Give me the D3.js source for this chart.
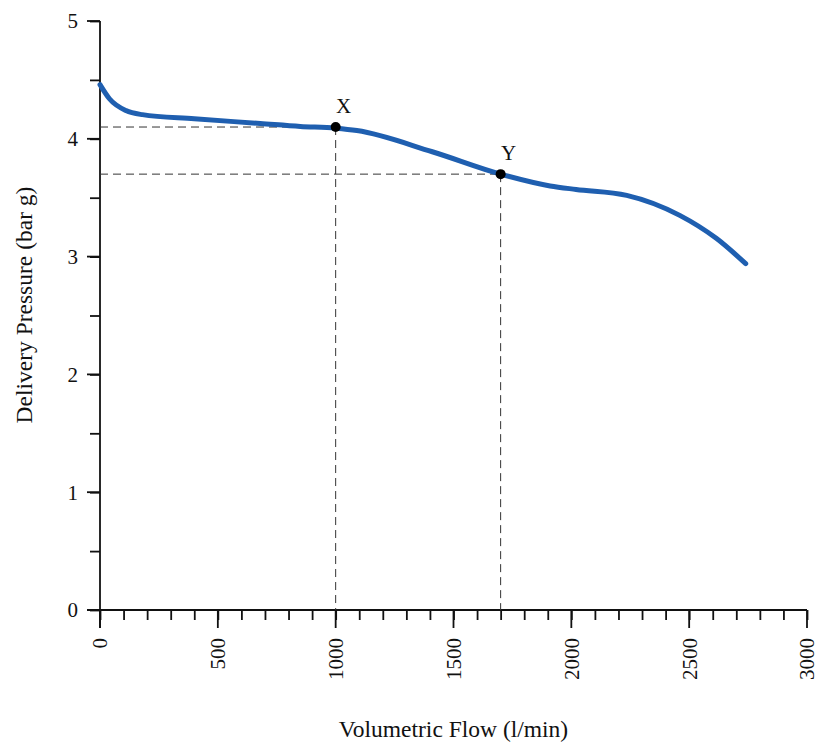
<!DOCTYPE html>
<html>
<head>
<meta charset="utf-8">
<script src="https://cdn.jsdelivr.net/npm/d3@7"></script>
<style>
  body { margin: 0; background: #fff; }
  svg text { font-family: "Liberation Serif", "Times New Roman", serif; fill: #111; }
</style>
</head>
<body>
<div id="chart"></div>
<script>
// pump curve
const flow = [0, 40, 110, 180, 400, 680, 850, 1000, 1090, 1410, 1700, 1910, 2020, 2235, 2460, 2615, 2740];
const pressure = [4.46, 4.34, 4.24, 4.205, 4.17, 4.13, 4.105, 4.09, 4.07, 3.89, 3.70, 3.60, 3.57, 3.52, 3.35, 3.155, 2.94];

const markNames = ['X', 'Y'];
const markFlow = [1000, 1700];
const markPressure = [4.1, 3.7];

const xTicks = [0, 500, 1000, 1500, 2000, 2500, 3000];
const yTicks = [0, 1, 2, 3, 4, 5];

const width = 820, height = 742;
const margin = {top: 21, right: 13, bottom: 132, left: 100};

const svg = d3.select('#chart').append('svg')
    .attr('width', width)
    .attr('height', height);

const x = d3.scaleLinear().domain([0, 3000]).range([margin.left, width - margin.right]);
const y = d3.scaleLinear().domain([0, 5]).range([height - margin.bottom, margin.top]);

// y axis
const yAxis = svg.append('g')
    .attr('transform', `translate(${margin.left},0)`);
yAxis.call(d3.axisLeft(y).tickValues(d3.range(0, 5.01, 0.5)).tickSize(10).tickFormat(''))
    .call(g => g.select('.domain').remove())
    .call(g => g.selectAll('line').attr('stroke', '#111').attr('stroke-width', 1.8));
yAxis.selectAll('.major')
  .data(yTicks)
  .enter().append('line')
    .attr('x1', -13).attr('x2', 0)
    .attr('y1', d => y(d)).attr('y2', d => y(d))
    .attr('stroke', '#111').attr('stroke-width', 1.8);
yAxis.selectAll('.lbl')
  .data(yTicks)
  .enter().append('text')
    .attr('x', -22)
    .attr('y', d => y(d))
    .attr('dy', '0.35em')
    .attr('text-anchor', 'end')
    .attr('font-size', 21)
    .text(d => d);
yAxis.append('line')
    .attr('y1', y(5)).attr('y2', y(0) + 18)
    .attr('stroke', '#111').attr('stroke-width', 1.8);

// x axis
const xAxis = svg.append('g')
    .attr('transform', `translate(0,${y(0)})`);
xAxis.call(d3.axisBottom(x).tickValues(d3.range(0, 3001, 100)).tickSize(10).tickFormat(''))
    .call(g => g.select('.domain').remove())
    .call(g => g.selectAll('line').attr('stroke', '#111').attr('stroke-width', 1.8));
xAxis.selectAll('.major')
  .data(xTicks)
  .enter().append('line')
    .attr('x1', d => x(d)).attr('x2', d => x(d))
    .attr('y1', 0).attr('y2', 18)
    .attr('stroke', '#111').attr('stroke-width', 1.8);
xAxis.selectAll('.lbl')
  .data(xTicks)
  .enter().append('text')
    .attr('transform', d => `translate(${x(d)},28) rotate(-90)`)
    .attr('dy', '0.35em')
    .attr('text-anchor', 'end')
    .attr('font-size', 21)
    .text(d => d);
xAxis.append('line')
    .attr('x1', x(0) - 13).attr('x2', x(3000))
    .attr('stroke', '#111').attr('stroke-width', 1.8);

// axis titles
svg.append('text')
    .attr('x', (x(0) + x(3000)) / 2)
    .attr('y', 737)
    .attr('text-anchor', 'middle')
    .attr('font-size', 23.5)
    .text('Volumetric Flow (l/min)');
svg.append('text')
    .attr('transform', `translate(32,305) rotate(-90)`)
    .attr('text-anchor', 'middle')
    .attr('font-size', 23.5)
    .text('Delivery Pressure (bar g)');

// guide lines to the marked points
const guides = svg.append('g')
    .attr('stroke', '#333')
    .attr('stroke-width', 1)
    .attr('stroke-dasharray', '8,5')
    .attr('fill', 'none');
markFlow.forEach((f, i) => {
  guides.append('line')
      .attr('x1', x(0)).attr('x2', x(f))
      .attr('y1', y(markPressure[i])).attr('y2', y(markPressure[i]));
  guides.append('line')
      .attr('x1', x(f)).attr('x2', x(f))
      .attr('y1', y(markPressure[i])).attr('y2', y(0));
});

// curve
const line = d3.line()
    .x((d, i) => x(flow[i]))
    .y(d => y(d))
    .curve(d3.curveMonotoneX);
svg.append('path')
    .datum(pressure)
    .attr('d', line)
    .attr('fill', 'none')
    .attr('stroke', '#1f5fb0')
    .attr('stroke-width', 5)
    .attr('stroke-linecap', 'round');

// marked points
svg.selectAll('.pt')
  .data(markFlow)
  .enter().append('circle')
    .attr('cx', d => x(d))
    .attr('cy', (d, i) => y(markPressure[i]))
    .attr('r', 5)
    .attr('fill', '#000');
svg.selectAll('.ptlbl')
  .data(markFlow)
  .enter().append('text')
    .attr('x', d => x(d) + 8)
    .attr('y', (d, i) => y(markPressure[i]) - 14)
    .attr('text-anchor', 'middle')
    .attr('font-size', 21)
    .text((d, i) => markNames[i]);
</script>
</body>
</html>
